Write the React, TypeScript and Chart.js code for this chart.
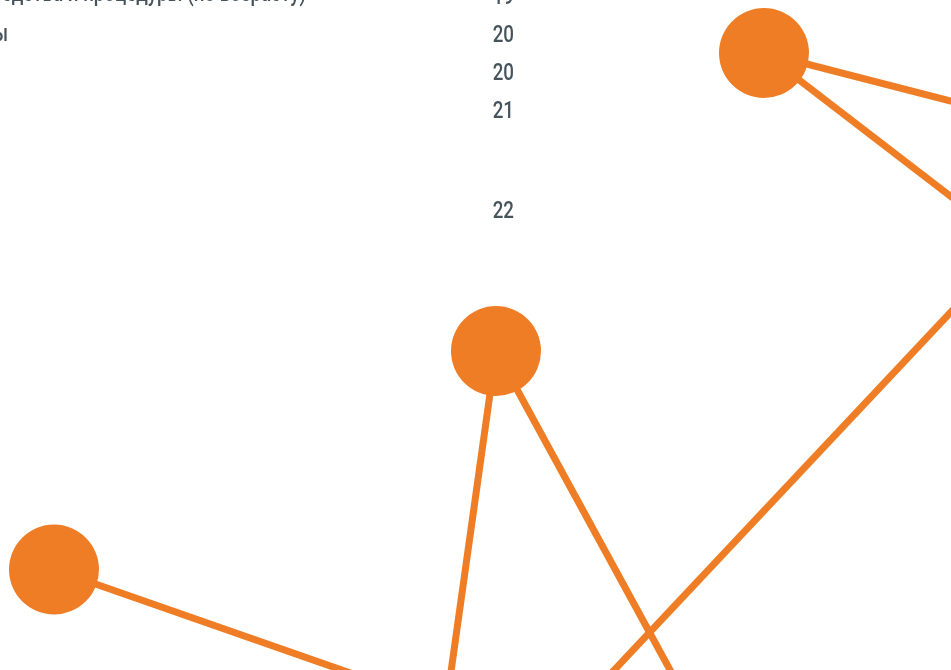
import React, { useEffect, useRef } from 'react';
import { Chart, registerables } from 'chart.js';

Chart.register(...registerables);

// Network nodes (in scale units; some lie beyond the visible area)
const nodeNames = ['A', 'B', 'C', 'E', 'F', 'G', 'H', 'I', 'J'];
const nodeX = [764, 496, 54, 1014, 1250, 714, 433, 741, 492];
const nodeY = [53, 351, 569.5, 245, 178, 800, 800, 800, 800];

// Edges between nodes (indices into the node arrays)
const edgeFrom = [0, 0, 3, 1, 1, 2];
const edgeTo = [4, 3, 8, 6, 7, 5];

// Table text at the top
const rowValues = ['19', '20', '20', '21', '22'];
const rowLabels = [
  'Применяете ли антивозрастные средства и процедуры (по возрасту)',
  'Кремы',
  '',
  '',
  '',
];

const ORANGE = '#EF7D25';
const TEXT = '#45535C';

const textPlugin = {
  id: 'tableText',
  afterDraw(chart: any) {
    const ctx = chart.ctx as CanvasRenderingContext2D;
    const baselines = [4, 42, 80, 118, 218];
    const labelBaselines = [1, 41, 0, 0, 0];
    const labelEnds = [306, 8, 0, 0, 0];
    const sx = 0.78;
    ctx.save();
    ctx.fillStyle = TEXT;
    ctx.textBaseline = 'alphabetic';
    ctx.textAlign = 'right';
    for (let i = 0; i < rowValues.length; i++) {
      ctx.save();
      ctx.scale(sx, 1);
      ctx.font = '500 24px Roboto';
      ctx.fillText(rowValues[i], 514 / sx, baselines[i]);
      if (rowLabels[i]) {
        ctx.font = '500 24px Roboto';
        ctx.fillText(rowLabels[i], labelEnds[i] / sx, labelBaselines[i]);
      }
      ctx.restore();
    }
    ctx.restore();
  },
};

export default function App() {
  const ref = useRef<HTMLCanvasElement | null>(null);

  useEffect(() => {
    if (!ref.current) return;
    const nodes = nodeNames.map((_, i) => ({ x: nodeX[i], y: nodeY[i] }));
    const edgeSets = edgeFrom.map((f, i) => ({
      type: 'line' as const,
      label: `${nodeNames[f]}-${nodeNames[edgeTo[i]]}`,
      data: [nodes[f], nodes[edgeTo[i]]],
      borderColor: ORANGE,
      borderWidth: 7,
      pointRadius: 0,
      showLine: true,
      fill: false,
      order: 2,
    }));
    const chart = new Chart(ref.current, {
      type: 'scatter',
      data: {
        datasets: [
          {
            type: 'scatter',
            label: 'nodes',
            data: nodes,
            backgroundColor: ORANGE,
            borderColor: ORANGE,
            borderWidth: 0,
            pointRadius: 45,
            pointHoverRadius: 45,
            order: 0,
          } as any,
          ...edgeSets,
        ],
      },
      options: {
        animation: false,
        responsive: true,
        maintainAspectRatio: false,
        layout: { padding: 0, autoPadding: false } as any,
        events: [],
        plugins: {
          legend: { display: false },
          tooltip: { enabled: false },
          title: { display: false },
        },
        scales: {
          x: { type: 'linear', min: 0, max: 951, display: false },
          y: { type: 'linear', min: 0, max: 670, reverse: true, display: false },
        },
      },
      plugins: [textPlugin],
    });
    return () => chart.destroy();
  }, []);

  return (
    <div style={{ position: 'fixed', left: 0, top: 0, width: 951, height: 670, background: '#fff' }}>
      <canvas ref={ref} />
    </div>
  );
}
